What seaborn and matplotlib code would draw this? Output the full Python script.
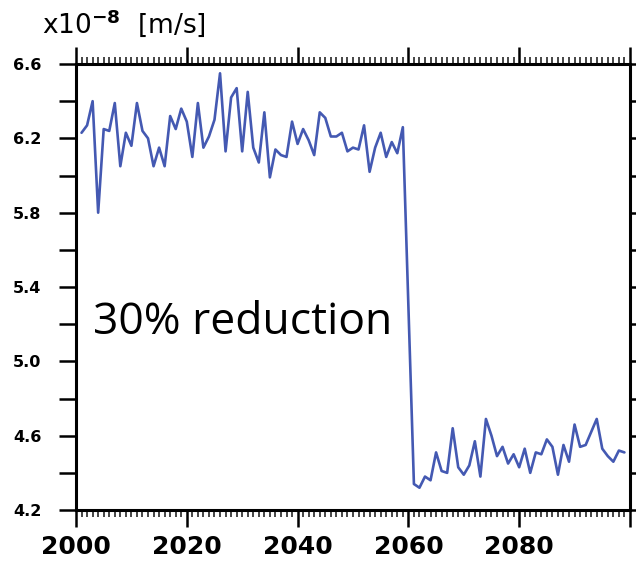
import matplotlib
matplotlib.use("Agg")
import matplotlib.pyplot as plt
from matplotlib.ticker import MultipleLocator, FixedLocator
import seaborn as sns
import pandas as pd

# Annual mean velocity (units of 1e-8 m/s)
years = list(range(2001, 2100))
velocity = [
    6.23, 6.27, 6.40, 5.80, 6.25, 6.24, 6.39, 6.05, 6.23, 6.16,
    6.39, 6.24, 6.20, 6.05, 6.15, 6.05, 6.32, 6.25, 6.36, 6.29,
    6.10, 6.39, 6.15, 6.21, 6.30, 6.55, 6.13, 6.42, 6.47, 6.13,
    6.45, 6.15, 6.07, 6.34, 5.99, 6.14, 6.11, 6.10, 6.29, 6.17,
    6.25, 6.19, 6.11, 6.34, 6.31, 6.21, 6.21, 6.23, 6.13, 6.15,
    6.14, 6.27, 6.02, 6.15, 6.23, 6.10, 6.18, 6.12, 6.26, 5.30,
    4.34, 4.32, 4.38, 4.36, 4.51, 4.41, 4.40, 4.64, 4.43, 4.39,
    4.44, 4.57, 4.38, 4.69, 4.60, 4.49, 4.54, 4.45, 4.50, 4.43,
    4.53, 4.40, 4.51, 4.50, 4.58, 4.54, 4.39, 4.55, 4.46, 4.66,
    4.54, 4.55, 4.62, 4.69, 4.53, 4.49, 4.46, 4.52, 4.51,
]

x_ticks = [2000, 2020, 2040, 2060, 2080, 2100]
x_tick_labels = ["2000", "2020", "2040", "2060", "2080", ""]
y_ticks = [4.2, 4.4, 4.6, 4.8, 5.0, 5.2, 5.4, 5.6, 5.8, 6.0, 6.2, 6.4, 6.6]
y_tick_labels = ["4.2", "", "4.6", "", "5.0", "", "5.4", "", "5.8", "", "6.2", "", "6.6"]

df = pd.DataFrame({"year": years, "velocity": velocity})

sns.set_theme(style="ticks")
plt.rcParams["font.family"] = ["DejaVu Sans"]

fig = plt.figure(figsize=(6.36, 5.63), dpi=100)
ax = fig.add_axes([0.1195, 0.0941, 0.871, 0.7922])

sns.lineplot(data=df, x="year", y="velocity", ax=ax, color="#4459b2",
             linewidth=1.9)

ax.set_xlim(2000, 2100)
ax.set_ylim(4.2, 6.6)
ax.set_xlabel("")
ax.set_ylabel("")

for side in ["left", "right", "top", "bottom"]:
    ax.spines[side].set_visible(True)
    ax.spines[side].set_linewidth(2.2)
    ax.spines[side].set_color("black")

ax.xaxis.set_major_locator(FixedLocator(x_ticks))
ax.set_xticklabels(x_tick_labels)
ax.xaxis.set_minor_locator(MultipleLocator(1))
ax.yaxis.set_major_locator(FixedLocator(y_ticks))
ax.set_yticklabels(y_tick_labels)

ax.tick_params(axis="x", which="major", direction="out", length=12, width=1.8,
               top=True, bottom=True, labelsize=18, pad=6, colors="black")
ax.tick_params(axis="x", which="minor", direction="out", length=5, width=1.2,
               top=True, bottom=True)
ax.tick_params(axis="y", which="major", direction="out", length=12, width=1.8,
               left=True, right=True, labelsize=11.5, pad=13, colors="black")
for lab in ax.get_xticklabels() + ax.get_yticklabels():
    lab.set_fontweight("bold")

ax.text(2003.0, 5.146, "30% reduction", fontsize=32, family="Open Sans",
        ha="left", va="baseline", color="black")

fig.text(0.066, 0.941, r"x10$^{\mathbf{-8}}$  [m/s]", fontsize=19,
         ha="left", va="baseline", color="black")

fig.savefig("out.png", dpi=100)
